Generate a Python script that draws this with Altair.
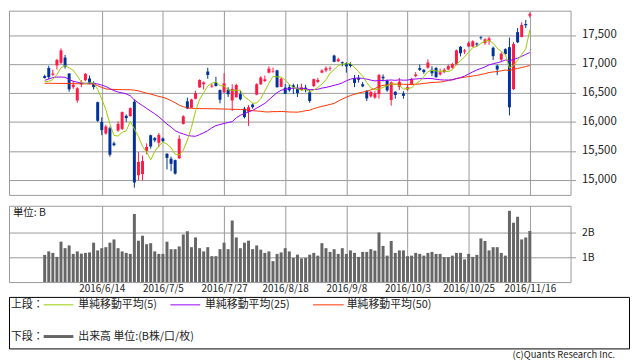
import altair as alt
import pandas as pd

# ---------------- data ----------------
dates = [
    "2016/5/25", "2016/5/26", "2016/5/27", "2016/5/30", "2016/5/31",
    "2016/6/1", "2016/6/2", "2016/6/3", "2016/6/6", "2016/6/7", "2016/6/8", "2016/6/9", "2016/6/10",
    "2016/6/13", "2016/6/14", "2016/6/15", "2016/6/16", "2016/6/17", "2016/6/20", "2016/6/21",
    "2016/6/22", "2016/6/23", "2016/6/24", "2016/6/27", "2016/6/28", "2016/6/29", "2016/6/30",
    "2016/7/1", "2016/7/4", "2016/7/5", "2016/7/6", "2016/7/7", "2016/7/8", "2016/7/11", "2016/7/12",
    "2016/7/13", "2016/7/14", "2016/7/15", "2016/7/19", "2016/7/20", "2016/7/21", "2016/7/22",
    "2016/7/25", "2016/7/26", "2016/7/27", "2016/7/28", "2016/7/29",
    "2016/8/1", "2016/8/2", "2016/8/3", "2016/8/4", "2016/8/5", "2016/8/8", "2016/8/9", "2016/8/10",
    "2016/8/12", "2016/8/15", "2016/8/16", "2016/8/17", "2016/8/18", "2016/8/19", "2016/8/22",
    "2016/8/23", "2016/8/24", "2016/8/25", "2016/8/26", "2016/8/29", "2016/8/30", "2016/8/31",
    "2016/9/1", "2016/9/2", "2016/9/5", "2016/9/6", "2016/9/7", "2016/9/8", "2016/9/9", "2016/9/12",
    "2016/9/13", "2016/9/14", "2016/9/15", "2016/9/16", "2016/9/20", "2016/9/21", "2016/9/23",
    "2016/9/26", "2016/9/27", "2016/9/28", "2016/9/29", "2016/9/30",
    "2016/10/3", "2016/10/4", "2016/10/5", "2016/10/6", "2016/10/7", "2016/10/11", "2016/10/12",
    "2016/10/13", "2016/10/14", "2016/10/17", "2016/10/18", "2016/10/19", "2016/10/20", "2016/10/21",
    "2016/10/24", "2016/10/25", "2016/10/26", "2016/10/27", "2016/10/28", "2016/10/31",
    "2016/11/1", "2016/11/2", "2016/11/4", "2016/11/7", "2016/11/8", "2016/11/9", "2016/11/10",
    "2016/11/11", "2016/11/14", "2016/11/15", "2016/11/16",
]

opens = [
    16790, 16930, 16815, 16976, 17020, 17110, 16836, 16600, 16370, 16650,
    16720, 16750, 16660, 16340, 16000, 15800, 15890, 15630, 15850, 15880,
    16105, 16100, 16350, 15080, 15100, 15500, 15770, 15720, 15640, 15715,
    15450, 15365, 15340, 15372, 15965, 16355, 16245, 16400, 16595, 16650,
    16870, 16610, 16680, 16550, 16510, 16560, 16370, 16425, 16480, 16230,
    16175, 16300, 16470, 16650, 16705, 16850, 16860, 16890, 16605, 16590,
    16600, 16630, 16580, 16550, 16590, 16510, 16620, 16690, 16850, 16890,
    16915, 17145, 17045, 17030, 17015, 17000, 16750, 16760, 16650, 16537,
    16440, 16420, 16480, 16780, 16715, 16380, 16520, 16605, 16490, 16560,
    16650, 16790, 16930, 16900, 16935, 16900, 16930, 16820, 16860, 16905,
    16935, 16990, 17297, 17215, 17300, 17300, 17355, 17460, 17360, 17395,
    17280, 16970, 17075, 17255, 17290, 16566, 17550, 17466, 17690, 17835,
]
highs = [
    16815, 16970, 16900, 17090, 17270, 17157, 16840, 16710, 16600, 16720,
    16840, 16800, 16700, 16350, 16080, 15950, 15920, 15660, 16010, 16180,
    16130, 16250, 16390, 15480, 15420, 15630, 15780, 15740, 15810, 15730,
    15460, 15400, 15350, 15770, 16115, 16420, 16400, 16540, 16735, 16700,
    16935, 16660, 16780, 16560, 16840, 16600, 16650, 16660, 16540, 16260,
    16290, 16320, 16667, 16790, 16800, 16960, 16940, 16900, 16760, 16650,
    16650, 16660, 16650, 16660, 16640, 16560, 16750, 16760, 16910, 16960,
    16960, 17160, 17110, 17045, 17030, 17030, 16810, 16810, 16690, 16550,
    16530, 16530, 16830, 16820, 16730, 16700, 16530, 16760, 16530, 16640,
    16760, 16860, 16990, 16910, 17080, 16960, 16950, 16920, 16930, 16990,
    17020, 17250, 17310, 17260, 17390, 17410, 17370, 17480, 17445, 17470,
    17300, 16990, 17200, 17270, 17456, 17380, 17620, 17720, 17760, 17890,
]
lows = [
    16750, 16740, 16790, 16905, 17000, 16920, 16520, 16570, 16330, 16600,
    16705, 16650, 16560, 16000, 15770, 15780, 15400, 15580, 15830, 15860,
    16000, 16090, 14864, 14990, 14990, 15440, 15540, 15650, 15560, 15650,
    15180, 15150, 15090, 15360, 15955, 16220, 16240, 16390, 16590, 16560,
    16745, 16590, 16610, 16320, 16500, 16430, 16190, 16420, 16370, 16060,
    15930, 16230, 16460, 16640, 16690, 16840, 16850, 16596, 16600, 16480,
    16520, 16480, 16430, 16540, 16510, 16330, 16600, 16670, 16840, 16860,
    16880, 17030, 17030, 16960, 16850, 16940, 16600, 16680, 16600, 16360,
    16420, 16400, 16400, 16700, 16520, 16280, 16400, 16550, 16400, 16540,
    16640, 16770, 16880, 16830, 16920, 16790, 16760, 16800, 16840, 16890,
    16920, 16980, 17130, 17170, 17290, 17290, 17300, 17420, 17330, 17330,
    17070, 16807, 17050, 17160, 16111, 16550, 17360, 17460, 17620, 17800,
]
closes = [
    16757, 16772, 16835, 17068, 17235, 16955, 16562, 16642, 16580, 16675,
    16831, 16668, 16601, 16019, 15859, 15920, 15434, 15600, 15965, 16169,
    16066, 16238, 14952, 15309, 15323, 15567, 15576, 15682, 15776, 15669,
    15379, 15276, 15107, 15709, 16096, 16231, 16386, 16498, 16723, 16682,
    16810, 16627, 16620, 16383, 16665, 16477, 16569, 16636, 16391, 16083,
    16254, 16255, 16651, 16765, 16735, 16920, 16870, 16597, 16746, 16486,
    16546, 16598, 16497, 16597, 16556, 16361, 16737, 16725, 16887, 16927,
    16926, 17038, 17082, 17012, 16959, 16966, 16673, 16729, 16614, 16405,
    16519, 16492, 16808, 16754, 16545, 16684, 16465, 16694, 16450, 16599,
    16736, 16819, 16899, 16860, 17025, 16840, 16774, 16856, 16900, 16964,
    16999, 17235, 17185, 17234, 17365, 17392, 17336, 17446, 17425, 17442,
    17135, 16905, 17177, 17171, 16252, 17344, 17375, 17673, 17668, 17862,
]
# volume, unit: B (billion shares)
volumes = [
    1.09, 1.23, 1.17, 1.01, 1.62, 1.36, 1.47, 1.13, 1.23, 1.14,
    1.17, 1.19, 1.58, 1.27, 1.36, 1.40, 1.58, 1.71, 1.36, 1.23,
    1.17, 1.13, 2.73, 1.66, 1.86, 1.52, 1.56, 1.23, 1.13, 1.13,
    1.62, 1.32, 1.32, 1.43, 1.91, 2.04, 1.40, 1.79, 1.36, 1.23,
    1.40, 1.04, 1.04, 1.32, 1.58, 1.32, 2.47, 1.79, 1.36, 1.58,
    1.66, 1.32, 1.47, 1.30, 1.17, 1.23, 0.84, 1.13, 1.19, 1.36,
    1.23, 0.97, 1.10, 0.95, 0.97, 1.10, 1.17, 1.06, 1.56, 1.36,
    1.21, 1.32, 1.13, 1.36, 1.13, 1.27, 1.17, 1.01, 1.21, 1.21,
    1.32, 1.26, 1.99, 1.45, 1.06, 1.65, 1.17, 1.27, 1.27, 1.04,
    1.06, 1.17, 1.13, 1.06, 1.17, 1.21, 1.13, 1.13, 1.00, 1.00,
    1.06, 1.17, 1.17, 0.91, 1.13, 1.01, 1.09, 1.75, 1.65, 1.27,
    1.40, 1.40, 1.17, 1.06, 2.86, 2.38, 2.62, 1.71, 1.79, 2.05,
]
ma5 = [
    16690, 16700, 16730, 16820, 16933, 16973, 16931, 16892, 16795, 16683,
    16658, 16679, 16671, 16559, 16396, 16213, 15967, 15766, 15756, 15818,
    15847, 16008, 15878, 15747, 15578, 15478, 15345, 15491, 15585, 15654,
    15616, 15556, 15441, 15428, 15513, 15684, 15906, 16184, 16387, 16504,
    16620, 16668, 16692, 16624, 16621, 16554, 16543, 16546, 16548, 16431,
    16387, 16324, 16327, 16402, 16532, 16665, 16788, 16777, 16774, 16724,
    16649, 16595, 16575, 16545, 16559, 16522, 16550, 16595, 16653, 16727,
    16840, 16901, 16972, 16997, 17003, 17011, 16938, 16868, 16788, 16677,
    16588, 16552, 16568, 16596, 16624, 16657, 16651, 16628, 16568, 16578,
    16589, 16660, 16701, 16783, 16868, 16889, 16880, 16871, 16879, 16867,
    16899, 16991, 17057, 17123, 17204, 17282, 17302, 17355, 17393, 17408,
    17357, 17271, 17217, 17166, 16928, 16970, 17064, 17163, 17262, 17584,
]
ma25 = [
    16718, 16740, 16765, 16774, 16774, 16770, 16735, 16700, 16685, 16670,
    16667, 16667, 16667, 16655, 16635, 16611, 16575, 16540, 16515, 16500,
    16485, 16450, 16380, 16328, 16281, 16234, 16186, 16140, 16088, 16026,
    15962, 15911, 15850, 15815, 15792, 15768, 15756, 15752, 15780, 15813,
    15849, 15897, 15937, 15954, 15974, 15990, 16004, 16071, 16114, 16145,
    16172, 16199, 16238, 16278, 16320, 16382, 16446, 16505, 16547, 16562,
    16575, 16583, 16583, 16578, 16573, 16555, 16560, 16564, 16584, 16595,
    16613, 16631, 16649, 16674, 16709, 16738, 16754, 16757, 16751, 16738,
    16722, 16707, 16715, 16716, 16718, 16724, 16718, 16726, 16720, 16722,
    16737, 16740, 16747, 16746, 16750, 16747, 16736, 16727, 16723, 16723,
    16724, 16747, 16765, 16790, 16828, 16863, 16897, 16922, 16949, 16985,
    17003, 17021, 17040, 17069, 17055, 17079, 17101, 17132, 17165, 17198,
]
ma50 = [
    16667, 16667, 16666, 16665, 16664, 16663, 16662, 16660, 16659, 16658,
    16657, 16656, 16655, 16625, 16595, 16570, 16562, 16560, 16558, 16557,
    16556, 16555, 16548, 16537, 16515, 16495, 16481, 16460, 16440, 16425,
    16400, 16368, 16330, 16290, 16262, 16240, 16235, 16232, 16230, 16229,
    16228, 16227, 16226, 16224, 16222, 16220, 16218, 16216, 16215, 16213,
    16203, 16193, 16189, 16183, 16173, 16172, 16178, 16177, 16181, 16177,
    16171, 16170, 16168, 16179, 16193, 16202, 16228, 16251, 16269, 16284,
    16302, 16318, 16360, 16394, 16427, 16455, 16477, 16498, 16515, 16529,
    16552, 16576, 16610, 16631, 16640, 16649, 16651, 16655, 16649, 16648,
    16646, 16650, 16656, 16665, 16672, 16680, 16684, 16688, 16698, 16716,
    16731, 16750, 16761, 16771, 16783, 16793, 16802, 16819, 16832, 16852,
    16863, 16869, 16883, 16895, 16888, 16908, 16921, 16940, 16955, 16974,
]
tick_labels = ["2016/6/14", "2016/7/5", "2016/7/27", "2016/8/18",
               "2016/9/8", "2016/10/3", "2016/10/25", "2016/11/16"]
price_ticks = [15000, 15500, 16000, 16500, 17000, 17500]
volume_ticks = [1, 2]

legend_upper = ["単純移動平均(5)", "単純移動平均(25)", "単純移動平均(50)"]
legend_lower = "出来高 単位:(B株/口/枚)"

# ---------------- styling ----------------
FONT = "Noto Sans CJK JP"
GRID = "#9a9a9a"
RED = "#ff1a46"
BLUE = "#003399"
C5, C25, C50 = "#99cc00", "#9900ff", "#ff3300"
VOLC = "#666666"
TXT = "#222222"

n = len(closes)
df = pd.DataFrame({
    "idx": list(range(n)), "date": dates,
    "open": opens, "high": highs, "low": lows, "close": closes,
    "volume": volumes, "ma5": ma5, "ma25": ma25, "ma50": ma50,
})
df["dir"] = ["up" if c >= o else "down" for o, c in zip(opens, closes)]

tick_idx = [dates.index(t) for t in tick_labels]
label_expr = ("[" + ",".join("'%s'" % t for t in tick_labels) + "][indexof(["
              + ",".join(str(i) for i in tick_idx) + "], datum.value)]")

x_scale = alt.Scale(domain=[-7.54, 127.78], nice=False, zero=False)
y_scale = alt.Scale(domain=[14740, 17920], nice=False, zero=False)
W = 567

x_axis_top = alt.Axis(values=tick_idx, grid=True, gridColor=GRID, gridOpacity=1,
                      labels=False, ticks=False, domain=False, title=None,
                      minExtent=0, maxExtent=0)
y_axis_top = alt.Axis(orient="right", values=price_ticks, format=",d", grid=True,
                      gridColor=GRID, gridOpacity=1, tickColor=GRID, tickSize=5,
                      labelPadding=6, domain=False, title=None, labelFont=FONT,
                      labelFontSize=11.5, labelColor=TXT, labelOverlap=False,
                      labelBound=False, labelFlush=False)


def X():
    return alt.X("idx:Q", scale=x_scale, axis=x_axis_top)


def Y(field):
    return alt.Y(field, scale=y_scale, axis=y_axis_top)


base = alt.Chart(df)
color = alt.Color("dir:N", scale=alt.Scale(domain=["up", "down"], range=[RED, BLUE]), legend=None)

wicks = base.mark_rule(strokeWidth=1).encode(x=X(), y=Y("low:Q"), y2="high:Q", color=color)
bodies = base.mark_bar(size=3).encode(x=X(), y=Y("open:Q"), y2="close:Q", color=color)
l50 = base.mark_line(color=C50, strokeWidth=1).encode(x=X(), y=Y("ma50:Q"))
l25 = base.mark_line(color=C25, strokeWidth=1).encode(x=X(), y=Y("ma25:Q"))
l5 = base.mark_line(color=C5, strokeWidth=1).encode(x=X(), y=Y("ma5:Q"))

top = alt.layer(wicks, bodies, l50, l25, l5).properties(
    width=W, height=186, view=alt.ViewBackground(stroke=GRID, strokeWidth=1))

one = pd.DataFrame({"k": [0]})

vol = base.mark_bar(size=3, color=VOLC).encode(
    x=alt.X("idx:Q", scale=x_scale,
            axis=alt.Axis(values=tick_idx, grid=True, gridColor=GRID, gridOpacity=1,
                          labelExpr=label_expr, ticks=False, domain=False, title=None,
                          labelFont=FONT, labelFontSize=10, labelColor=TXT, labelPadding=2,
                          labelOverlap=False, labelFlush=False)),
    y=alt.Y("volume:Q", scale=alt.Scale(domain=[0, 3.06], nice=False),
            axis=alt.Axis(orient="right", values=volume_ticks, labelExpr="datum.value + 'B'",
                          grid=True, gridColor=GRID, gridOpacity=1, tickColor=GRID, tickSize=5,
                          labelPadding=6, domain=False, title=None, labelFont=FONT,
                          labelFontSize=10.5, labelColor=TXT, labelOverlap=False)),
)
unit_txt = alt.Chart(one).mark_text(align="left", baseline="top", font=FONT, fontSize=10.5,
                                    color=TXT).encode(
    x=alt.value(4), y=alt.value(2), text=alt.value("単位: B"))
bottom = alt.layer(vol, unit_txt).properties(
    width=W, height=77, view=alt.ViewBackground(stroke=GRID, strokeWidth=1))


def txt(s, x, y, align="left", size=11):
    return alt.Chart(one).mark_text(align=align, baseline="middle", font=FONT, fontSize=size,
                                    color=TXT).encode(
        x=alt.value(x), y=alt.value(y), text=alt.value(s))


def seg(x1, x2, y, c, w):
    return alt.Chart(one).mark_rule(color=c, strokeWidth=w).encode(
        x=alt.value(x1), x2=alt.value(x2), y=alt.value(y))


legend = alt.layer(
    txt("上段：", 2, 8),
    seg(35, 65, 8, C5, 1), txt(legend_upper[0], 70, 8),
    seg(163, 193, 8, C25, 1), txt(legend_upper[1], 198, 8),
    seg(307, 338, 8, C50, 1), txt(legend_upper[2], 341, 8),
    txt("下段：", 2, 40),
    seg(35, 65, 40, VOLC, 3), txt(legend_lower, 70, 40),
    txt("(c)Quants Research Inc.", 612, 59, align="right", size=9.5),
).properties(width=626, height=52, view=alt.ViewBackground(stroke="#000000", strokeWidth=1))

chart = alt.vconcat(
    alt.vconcat(top, bottom, spacing=9),
    legend,
    spacing=1,
).properties(padding=0, background="white").configure(font=FONT)

chart.save("out.html", embed_options={"renderer": "svg", "actions": False})
